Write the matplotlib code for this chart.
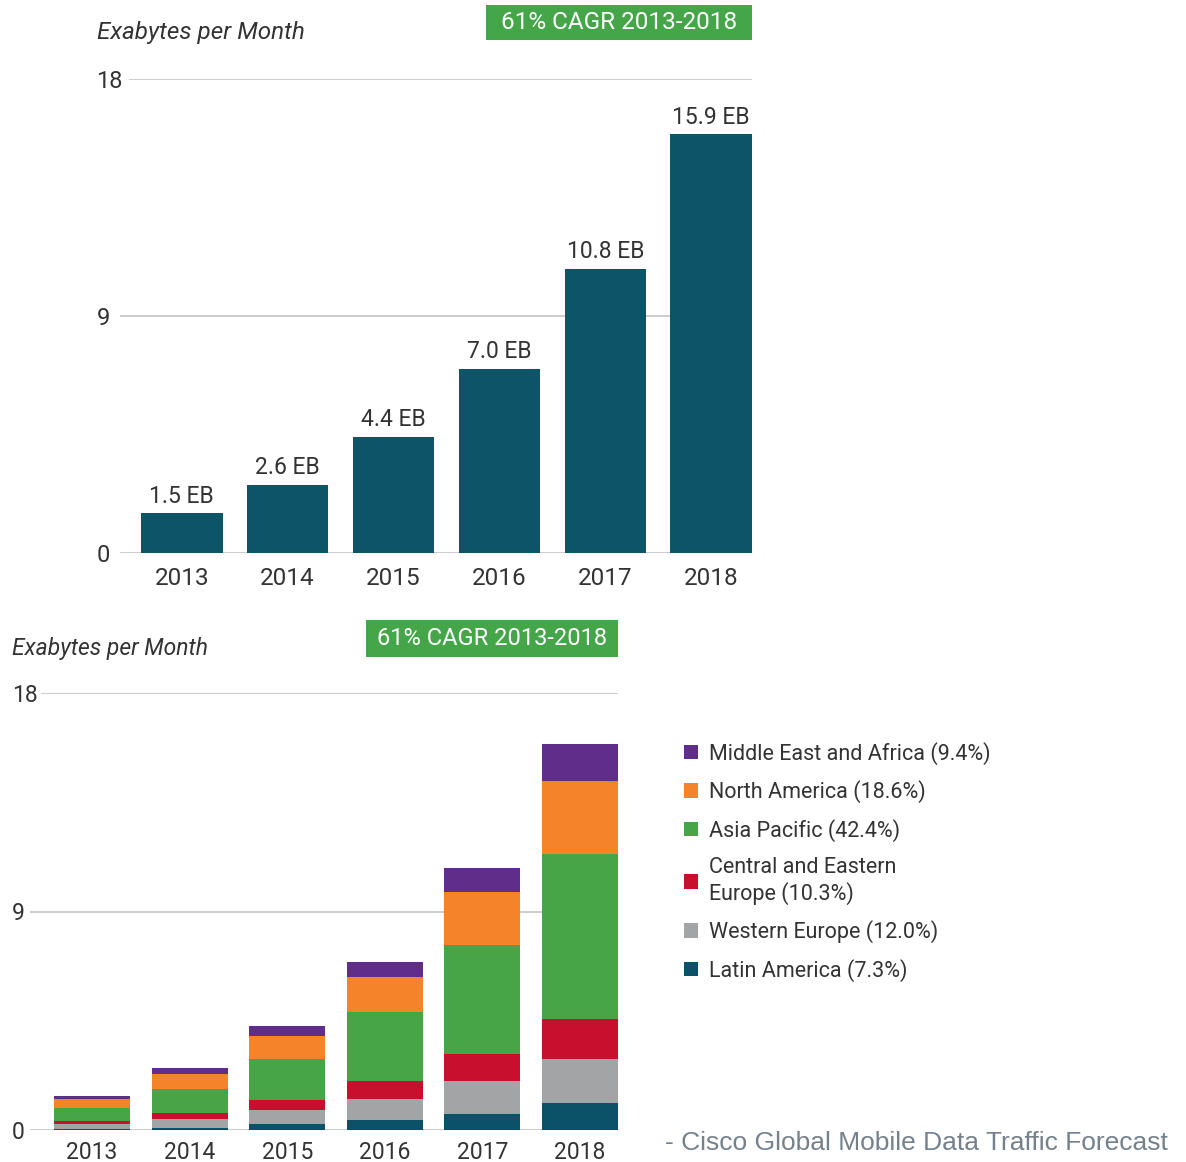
import matplotlib
matplotlib.use("Agg")
import matplotlib.pyplot as plt
from matplotlib.patches import Rectangle, Patch
import numpy as np

plt.rcParams['font.family'] = ['Roboto', 'DejaVu Sans']

years = ['2013', '2014', '2015', '2016', '2017', '2018']
totals = [1.5, 2.6, 4.4, 7.0, 10.8, 15.9]
total_labels = ['1.5 EB', '2.6 EB', '4.4 EB', '7.0 EB', '10.8 EB', '15.9 EB']

# regional split, bottom to top of the stack (EB per month)
latin_america = [0.05, 0.10, 0.23, 0.41, 0.66, 1.13]
western_europe = [0.18, 0.37, 0.59, 0.87, 1.37, 1.78]
central_eastern_europe = [0.14, 0.22, 0.42, 0.75, 1.10, 1.66]
asia_pacific = [0.55, 0.99, 1.67, 2.82, 4.49, 6.80]
north_america = [0.37, 0.63, 0.96, 1.47, 2.20, 3.01]
middle_east_africa = [0.12, 0.23, 0.42, 0.62, 0.96, 1.52]

region_names = ['Latin America (7.3%)', 'Western Europe (12.0%)',
                'Central and Eastern\nEurope (10.3%)', 'Asia Pacific (42.4%)',
                'North America (18.6%)', 'Middle East and Africa (9.4%)']
region_colors = ['#0b5269', '#a3a4a6', '#c8102e', '#47a547', '#f5832a', '#612d8b']

yticks = [0, 9, 18]
TEAL = '#0d5468'
GREEN = '#44a648'
GRID = '#c4c4c4'
TXT = '#333333'

fig = plt.figure(figsize=(11.86, 11.62), dpi=100)

# ---- top chart: totals ----
ax1 = fig.add_axes([120/1186, 1-553/1162, 632/1186, 474/1162])
x = np.arange(len(years))
ax1.bar(x, totals, width=0.77, color=TEAL, zorder=3)
for xi, v, lab in zip(x, totals, total_labels):
    ax1.text(xi, v + 0.22, lab, ha='center', va='bottom', fontsize=16.5, color=TXT)
ax1.set_xlim(-0.583, 5.385)
ax1.set_ylim(0, 18)
for yv, xm in zip(yticks, [0, 0, 10/632]):
    ax1.axhline(yv, xmin=xm, color=GRID, lw=1.2, zorder=1)
ax1.set_xticks(x)
ax1.set_xticklabels(years, fontsize=17.5, color=TXT)
ax1.set_yticks(yticks)
ax1.set_yticklabels([str(t) for t in yticks], fontsize=17, color=TXT, ha='left')
ax1.tick_params(axis='x', length=0, pad=10)
ax1.tick_params(axis='y', length=0, pad=17)
for s in ax1.spines.values():
    s.set_visible(False)

fig.text(97/1186, 1-32/1162, 'Exabytes per Month', fontsize=17.5, style='italic',
         color=TXT, va='center', ha='left')
fig.add_artist(Rectangle((486/1186, 1-40/1162), 266/1186, 35/1162,
                         transform=fig.transFigure, color=GREEN, lw=0))
fig.text((486+133)/1186, 1-22.5/1162, '61% CAGR 2013-2018', fontsize=17.5,
         color='white', ha='center', va='center')

# ---- bottom chart: stacked by region ----
ax2 = fig.add_axes([30/1186, 32/1162, 588/1186, 437/1162])
stack = [latin_america, western_europe, central_eastern_europe,
         asia_pacific, north_america, middle_east_africa]
bottom = np.zeros(len(years))
handles = []
for vals, name, col in zip(stack, region_names, region_colors):
    ax2.bar(x, vals, bottom=bottom, width=0.78, color=col, zorder=3)
    bottom += np.array(vals)
    handles.append(Patch(facecolor=col, label=name))
ax2.set_xlim(-0.636, 5.39)
ax2.set_ylim(0, 18)
for yv, xm in zip(yticks, [0, 0, 12/588]):
    ax2.axhline(yv, xmin=xm, color=GRID, lw=1.2, zorder=1)
ax2.set_xticks(x)
ax2.set_xticklabels(years, fontsize=16.5, color=TXT)
ax2.set_yticks(yticks)
ax2.set_yticklabels([str(t) for t in yticks], fontsize=16.5, color=TXT, ha='left')
ax2.tick_params(axis='x', length=0, pad=8)
ax2.tick_params(axis='y', length=0, pad=13)
for s in ax2.spines.values():
    s.set_visible(False)

fig.text(12/1186, 1-649/1162, 'Exabytes per Month', fontsize=16.5, style='italic',
         color=TXT, va='center', ha='left')
fig.add_artist(Rectangle((366/1186, 1-657/1162), 252/1186, 37/1162,
                         transform=fig.transFigure, color=GREEN, lw=0))
fig.text((366+126)/1186, 1-638.5/1162, '61% CAGR 2013-2018', fontsize=17,
         color='white', ha='center', va='center')

fig.legend(handles=handles[::-1], loc='upper left',
           bbox_to_anchor=(673/1186, 1-731/1162), frameon=False,
           fontsize=15.5, handlelength=0.68, handleheight=0.68, handletextpad=0.5,
           labelspacing=0.72, labelcolor=TXT, borderpad=0)

fig.text(1168/1186, 1-1143/1162, '- Cisco Global Mobile Data Traffic Forecast',
         fontsize=19, family='Liberation Sans', color='#74818c',
         ha='right', va='center')

fig.savefig('out.png', dpi=100, facecolor='white')
